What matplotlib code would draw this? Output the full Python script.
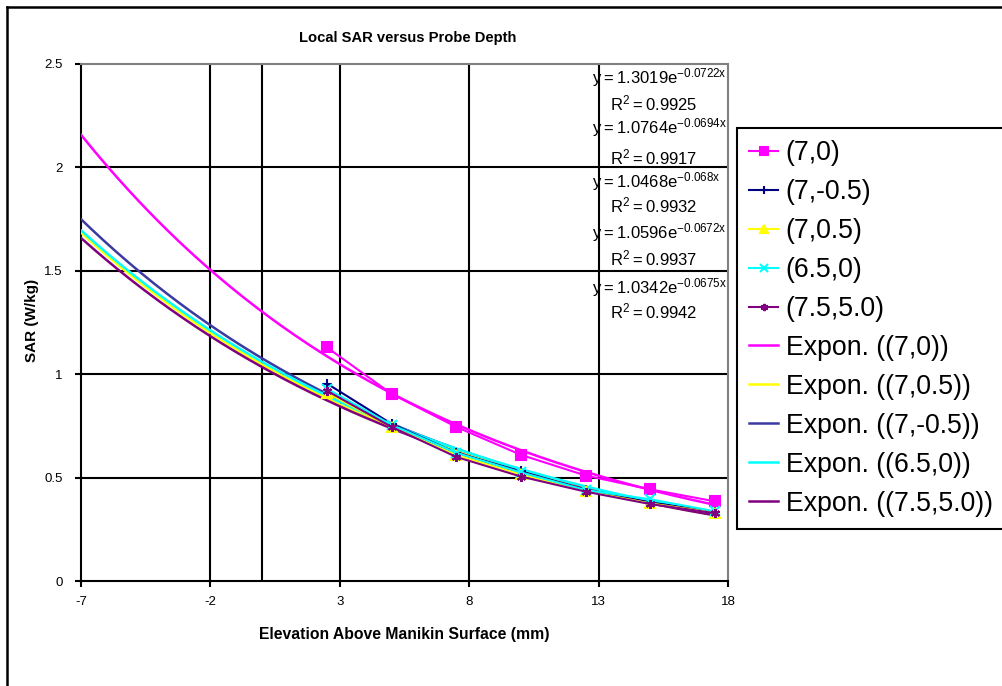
import numpy as np
import matplotlib
matplotlib.use("Agg")
import matplotlib.pyplot as plt
from matplotlib.lines import Line2D
from matplotlib.ticker import FuncFormatter

plt.rcParams['font.family'] = ['Liberation Sans', 'DejaVu Sans']
plt.rcParams['axes.unicode_minus'] = False
plt.rcParams['mathtext.fontset'] = 'custom'
plt.rcParams['mathtext.rm'] = 'Liberation Sans'

# measured SAR values at each probe depth
depth = [2.5, 5, 7.5, 10, 12.5, 15, 17.5]
sar_7_0 = [1.13, 0.905, 0.745, 0.61, 0.51, 0.443, 0.385]
sar_7_m05 = [0.955, 0.76, 0.62, 0.53, 0.44, 0.38, 0.335]
sar_7_05 = [0.91, 0.745, 0.61, 0.515, 0.435, 0.375, 0.33]
sar_65_0 = [0.93, 0.755, 0.62, 0.525, 0.44, 0.395, 0.337]
sar_75_5 = [0.92, 0.745, 0.60, 0.505, 0.432, 0.372, 0.328]

series_names = ['(7,0)', '(7,-0.5)', '(7,0.5)', '(6.5,0)', '(7.5,5.0)']
series_data = [sar_7_0, sar_7_m05, sar_7_05, sar_65_0, sar_75_5]
series_colors = ['#ff00ff', '#000080', '#ffff00', '#00ffff', '#800080']
series_markers = ['s', '+', '^', 'x', (6, 2, 0)]

# exponential trendline coefficients shown on the chart: y = a*exp(b*x)
fit_a = [1.3019, 1.0764, 1.0468, 1.0596, 1.0342]
fit_b = [-0.0722, -0.0694, -0.068, -0.0672, -0.0675]
fit_r2 = ['0.9925', '0.9917', '0.9932', '0.9937', '0.9942']
trend_colors = ['#ff00ff', '#3a3aa0', '#ffff00', '#00ffff', '#800080']

W, H = 1002, 686
fig = plt.figure(figsize=(W / 100, H / 100), dpi=100)
ax = fig.add_axes([81 / W, 1 - 581 / H, (728 - 81) / W, (581 - 64) / H])

# trendlines
xt = np.linspace(-7, 17.5, 200)
trend_handles = []
for a, b, c in zip(fit_a, fit_b, trend_colors):
    h, = ax.plot(xt, a * np.exp(b * xt), color=c, lw=1.8, zorder=3)
    trend_handles.append(h)

# data series
data_handles = []
for name, y, c, m in zip(series_names, series_data, series_colors, series_markers):
    h, = ax.plot(depth, y, color=c, marker=m, markersize=6.5, mew=1.5, lw=1.5,
                 label=name, zorder=4)
    data_handles.append(h)

ax.set_xlim(-7, 18)
ax.set_ylim(0, 2.5)
ax.set_xticks([-7, -2, 3, 8, 13, 18])
ax.set_yticks([0, 0.5, 1, 1.5, 2, 2.5])
ax.yaxis.set_major_formatter(FuncFormatter(lambda v, p: '%g' % v))
ax.tick_params(labelsize=9.5, length=4, width=1.5, direction='out')
ax.tick_params(axis='y', pad=9)
ax.tick_params(axis='x', pad=7)

for v in [-2, 3, 8, 13]:
    ax.axvline(v, color='k', lw=1.5, zorder=2.5)
ax.axvline(0, color='k', lw=1.5, zorder=2.5)
for v in [0.5, 1, 1.5, 2]:
    ax.axhline(v, color='k', lw=1.5, zorder=2.5)

ax.spines['left'].set_linewidth(1.5)
ax.spines['bottom'].set_linewidth(1.5)
for s in ['top', 'right']:
    ax.spines[s].set_color('#808080')
    ax.spines[s].set_linewidth(1.5)

fig.text(408 / W, 1 - 38 / H, 'Local SAR versus Probe Depth', ha='center', va='center',
         fontsize=10.6, fontweight='bold')
fig.text(404 / W, 1 - 634 / H, 'Elevation Above Manikin Surface (mm)', ha='center',
         va='center', fontsize=11.3, fontweight='bold')
fig.text(32 / W, 1 - 320 / H, 'SAR (W/kg)', ha='center', va='center', rotation=90,
         fontsize=11, fontweight='bold')

# trendline equations
eq_rows = [78, 128, 182, 233, 288]
r2_rows = [103, 157, 205, 258, 311]
for a, b, r2, ye, yr in zip(fit_a, fit_b, fit_r2, eq_rows, r2_rows):
    ax.text(592 / W, 1 - ye / H, r'$\mathregular{y = %se^{%gx}}$' % (a, b),
            transform=fig.transFigure, ha='left', va='center', fontsize=12, zorder=2)
    ax.text(610 / W, 1 - yr / H, r'$\mathregular{R^2 = %s}$' % r2,
            transform=fig.transFigure, ha='left', va='center', fontsize=12, zorder=2)

handles = data_handles + [trend_handles[0], trend_handles[2], trend_handles[1],
                          trend_handles[3], trend_handles[4]]
labels = series_names + ['Expon. ((7,0))', 'Expon. ((7,0.5))', 'Expon. ((7,-0.5))',
                         'Expon. ((6.5,0))', 'Expon. ((7.5,5.0))']
leg = fig.legend(handles, labels, loc='upper left', bbox_to_anchor=(737 / W, 1 - 128 / H),
                 bbox_transform=fig.transFigure, borderaxespad=0, fontsize=19.2,
                 frameon=True, fancybox=False, framealpha=1, edgecolor='k',
                 handlelength=1.1, handletextpad=0.28, labelspacing=0.486,
                 borderpad=0.45, markerscale=0.8)
leg.get_frame().set_linewidth(1.5)

# chart area border
fig.add_artist(Line2D([7 / W, 7 / W], [0, 1 - 7 / H], color='k', lw=1.8,
                      transform=fig.transFigure))
fig.add_artist(Line2D([7 / W, 1], [1 - 7 / H, 1 - 7 / H], color='k', lw=1.8,
                      transform=fig.transFigure))

fig.savefig('out.png', dpi=100)
